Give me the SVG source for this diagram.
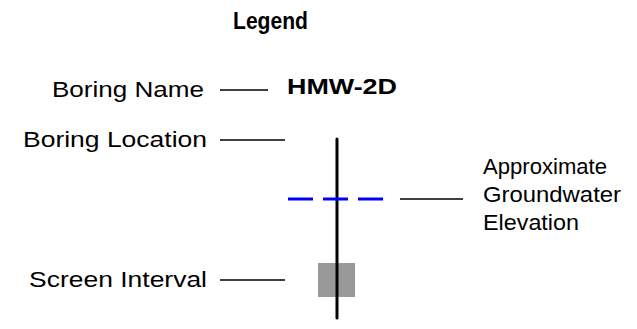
<svg xmlns="http://www.w3.org/2000/svg" width="637" height="329" viewBox="0 0 637 329">
  <style>
    text { font-family: "Liberation Sans", Arial, sans-serif; fill: #000; }
    .lbl { font-size: 22.5px; }
    .bold { font-size: 22.5px; font-weight: bold; }
    .title { font-size: 23.5px; font-weight: bold; }
    .note { font-size: 22px; }
    .lead { stroke: #000; stroke-width: 1.5; fill: none; }
  </style>
  <rect width="637" height="329" fill="#fff"/>

  <g id="title">
    <text class="title" x="233" y="29" textLength="75" lengthAdjust="spacingAndGlyphs">Legend</text>
  </g>

  <g id="boring-symbol">
    <rect x="318" y="263" width="37" height="34" fill="#999"/>
    <line x1="337" y1="139" x2="337" y2="318" stroke="#000" stroke-width="3" stroke-linecap="round"/>
    <line x1="288" y1="199" x2="385" y2="199" stroke="#0000ff" stroke-width="3" stroke-dasharray="25 10"/>
    <text class="bold" x="287" y="94" textLength="110" lengthAdjust="spacingAndGlyphs">HMW-2D</text>
  </g>

  <g id="leaders">
    <line class="lead" x1="220" y1="90" x2="268" y2="90"/>
    <line class="lead" x1="220" y1="140" x2="285" y2="140"/>
    <line class="lead" x1="400" y1="199" x2="463" y2="199"/>
    <line class="lead" x1="220" y1="280" x2="285" y2="280"/>
  </g>

  <g id="label-name">
    <text class="lbl" x="52" y="97" textLength="152" lengthAdjust="spacingAndGlyphs">Boring Name</text>
  </g>
  <g id="label-location">
    <text class="lbl" x="23" y="147" textLength="184" lengthAdjust="spacingAndGlyphs">Boring Location</text>
  </g>
  <g id="label-groundwater">
    <text class="note" x="483" y="174" textLength="124" lengthAdjust="spacingAndGlyphs">Approximate</text>
    <text class="note" x="483" y="202" textLength="138" lengthAdjust="spacingAndGlyphs">Groundwater</text>
    <text class="note" x="483" y="230" textLength="96" lengthAdjust="spacingAndGlyphs">Elevation</text>
  </g>
  <g id="label-screen">
    <text class="lbl" x="29" y="287" textLength="178" lengthAdjust="spacingAndGlyphs">Screen Interval</text>
  </g>
</svg>
